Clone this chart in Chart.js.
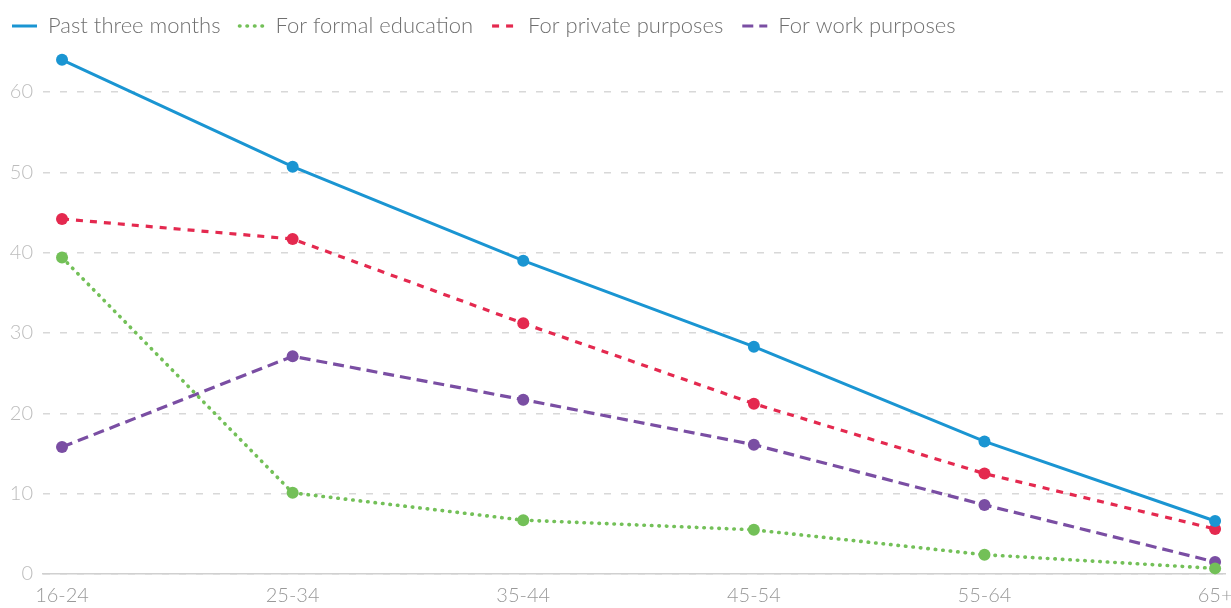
<!DOCTYPE html>
<html>
<head>
<meta charset="utf-8">
<script src="https://cdn.jsdelivr.net/npm/chart.js@4/dist/chart.umd.min.js"></script>
<style>
  html, body { margin: 0; padding: 0; background: #fff; }
  #wrap { width: 1231px; height: 608px; }
</style>
</head>
<body>
<div id="wrap"><canvas id="canvas"></canvas></div>
<script>
/* Chart values. */
const ageGroups = ["16-24", "25-34", "35-44", "45-54", "55-64", "65+"]
const pastThreeMonths = [64.0, 50.7, 39.0, 28.3, 16.5, 6.6]
const formalEducation = [39.4, 10.1, 6.7, 5.5, 2.4, 0.7]
const privatePurposes = [44.2, 41.7, 31.2, 21.2, 12.5, 5.6]
const workPurposes = [15.8, 27.1, 21.7, 16.1, 8.6, 1.5]
const yTicks = [0, 10, 20, 30, 40, 50, 60]

/* Turn a value list into x/y points so the x axis can be linear. */
const toPoints = values => values.map((v, i) => ({ x: i, y: v }))

const makeDataset = (label, values, color, dash, width, cap) => ({
  label,
  data: toPoints(values),
  borderColor: color,
  backgroundColor: color,
  borderWidth: width,
  borderDash: dash,
  borderCapStyle: cap,
  pointRadius: 6,
  pointHoverRadius: 6,
  pointBorderWidth: 0,
  pointBackgroundColor: color,
  tension: 0,
  clip: false
})

/* Legend items drawn as short line samples with the dataset's dash. */
const legendLabels = chart => {
  const items = Chart.defaults.plugins.legend.labels.generateLabels(chart)
  items.forEach(item => {
    const ds = chart.data.datasets[item.datasetIndex]
    item.lineWidth = ds.borderWidth
    item.strokeStyle = ds.borderColor
    item.lineDash = ds.borderDash
    item.lineCap = ds.borderCapStyle
    item.pointStyle = "line"
  })
  return items
}

const ctx = document.getElementById("canvas").getContext("2d")
const chart = new Chart(ctx, {
  type: "line",
  data: {
    datasets: [
      makeDataset("Past three months", pastThreeMonths, "#1a95d2", [], 3, "butt"),
      makeDataset("For formal education", formalEducation, "#73c058", [0.5, 7], 3.6, "round"),
      makeDataset("For private purposes", privatePurposes, "#e4294f", [7, 7], 3.2, "butt"),
      makeDataset("For work purposes", workPurposes, "#7a4ea3", [11, 6], 3.2, "butt")
    ]
  },
  options: {
    responsive: true,
    maintainAspectRatio: false,
    animation: false,
    layout: {
      padding: { left: -7, right: 0, top: -4, bottom: 0 }
    },
    plugins: {
      legend: {
        align: "start",
        labels: {
          usePointStyle: true,
          pointStyle: "line",
          pointStyleWidth: 25,
          padding: 19,
          color: "#707070",
          font: { family: "Lato", size: 22, weight: "300" },
          generateLabels: legendLabels
        }
      },
      tooltip: { enabled: false }
    },
    scales: {
      x: {
        type: "linear",
        min: -0.0825,
        max: 5.043,
        afterBuildTicks: scale => {
          scale.ticks = ageGroups.map((_, i) => ({ value: i }))
        },
        afterFit: scale => {
          scale.height = 34
          scale.paddingLeft = 0
          scale.paddingRight = 0
        },
        grid: { display: false, drawTicks: false },
        border: { display: true, color: "#d0d0d0", width: 1.5 },
        ticks: {
          padding: 10,
          autoSkip: false,
          maxRotation: 0,
          color: "#999",
          font: { family: "Lato", size: 20, weight: "300" },
          callback: value => ageGroups[value]
        }
      },
      y: {
        min: 0,
        max: 65.6,
        afterBuildTicks: scale => {
          scale.ticks = yTicks.map(v => ({ value: v }))
        },
        afterFit: scale => {
          scale.width = 50
        },
        grid: {
          color: "#d8d8d8",
          lineWidth: 1.5,
          drawTicks: false
        },
        border: { display: false, dash: [7, 10] },
        ticks: {
          padding: 10,
          color: "#bdbdbd",
          font: { family: "Lato", size: 20, weight: "300" }
        }
      }
    }
  }
})
</script>
</body>
</html>
